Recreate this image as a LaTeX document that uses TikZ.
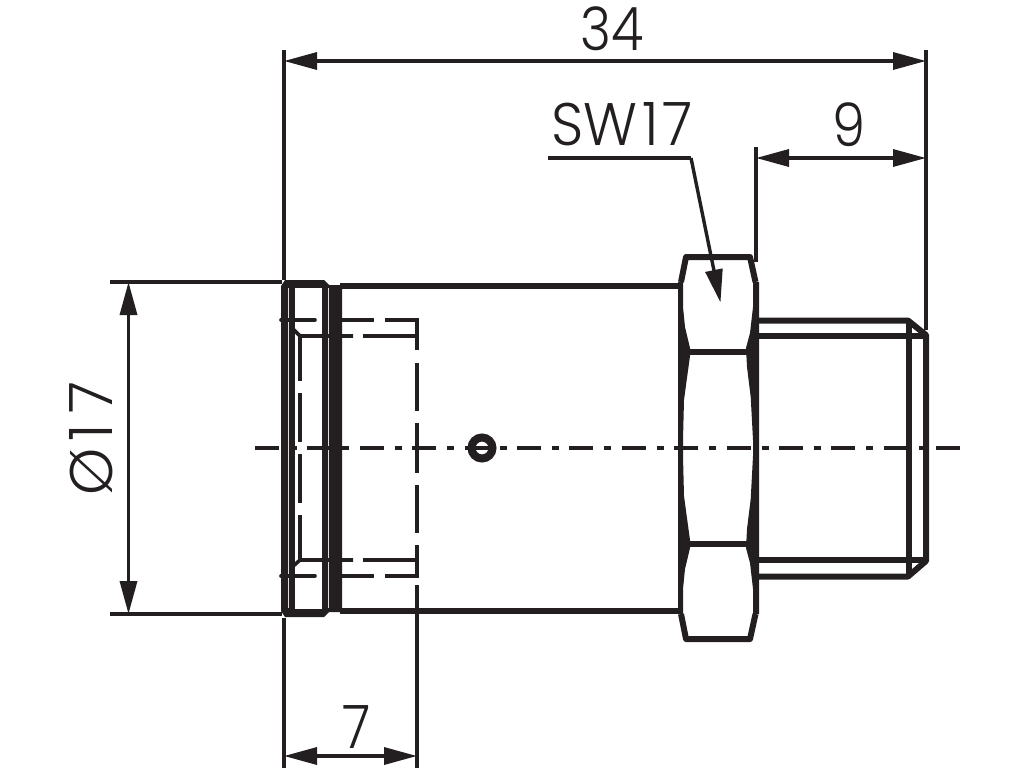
\documentclass[tikz,border=0pt]{standalone}
\usepackage{fontspec}
\setmainfont{Poppins}[UprightFont=* Light]
\usetikzlibrary{arrows.meta}
\definecolor{ink}{HTML}{231F20}
\tikzset{
  dimline/.style={line width=3.4pt,draw=ink,{Triangle[length=33pt,width=17pt]}-{Triangle[length=33pt,width=17pt]},shorten <=0pt,shorten >=0pt},
  leader/.style={line width=3.4pt,draw=ink,line join=miter},
  extline/.style={line width=3.4pt,draw=ink},
  thick outline/.style={line width=6pt,draw=ink,line join=round},
  hidden/.style={line width=3.6pt,draw=ink,line cap=round},
  axis/.style={line width=3.6pt,draw=ink,dash pattern=on 24pt off 11pt on 7pt off 10.4pt},
  dimtext/.style={inner sep=0pt,text=ink,font=\fontsize{60}{60}\selectfont}
}
\begin{document}
\begin{tikzpicture}[x=1pt,y=-1pt]
\useasboundingbox (0,0) rectangle (1024,768);
% named anchors of dimensions
\coordinate (a34) at (284,61); \coordinate (b34) at (926,61);
\coordinate (a9) at (756,158); \coordinate (b9) at (926,158);
\coordinate (a17) at (128.5,282); \coordinate (b17) at (128.5,614);
\coordinate (a7) at (284,756); \coordinate (b7) at (417,756);
\coordinate (la) at (548,158); \coordinate (lb) at (691,158); \coordinate (lc) at (720.5,302.5);
% extension lines
\draw[extline] (284,50) -- (284,280);
\draw[extline] (926,50) -- (926,330);
\draw[extline] (756,147) -- (756,262);
\draw[extline] (110,282) -- (282,282);
\draw[extline] (110,614) -- (282,614);
\draw[extline] (284,618) -- (284,768);
\draw[extline] (417,585) -- (417,768);
% hidden edges
\draw[hidden,line cap=butt] (417,320) -- (417,350) (417,363) -- (417,411) (417,423) -- (417,473) (417,485) -- (417,533) (417,545) -- (417,576);
% body
\fill[ink] (281,286) -- (285,280) -- (324,280) -- (329,285) -- (342,285) -- (342,612) -- (329,612) -- (324,617) -- (285,617) -- (281,611) -- cycle;
\fill[white] (295,288) rectangle (322,609);
\fill[white!85!ink] (288,288) rectangle (289.2,608);
\fill[white!85!ink] (327.5,288) rectangle (328.7,608);
\draw[hidden] (281,320) -- (315,320);
\draw[hidden] (281,576) -- (315,576);
\draw[hidden,line cap=butt] (342,320) -- (374,320) (385,320) -- (418.5,320);
\draw[hidden,line cap=butt] (342,576) -- (374,576) (385,576) -- (418.5,576);
\draw[hidden,line cap=butt] (291,327) -- (300,336) -- (353,336) (363,336) -- (418.5,336);
\draw[hidden,line cap=butt] (291,568) -- (300,560) -- (353,560) (363,560) -- (418.5,560);
\draw[hidden,line cap=butt] (300,336) -- (300,381) (300,393) -- (300,442) (300,454) -- (300,503) (300,515) -- (300,560);
\draw[thick outline] (340,285.5) -- (682,285.5);
\draw[thick outline] (340,610.5) -- (682,610.5);
% thread
\draw[thick outline] (755,320.5) -- (908,320.5) -- (926,335) -- (926,561) -- (908,576.5) -- (755,576.5);
\draw[thick outline] (755,336) -- (926,336);
\draw[thick outline] (755,559.5) -- (926,559.5);
\draw[thick outline] (908.5,320.5) -- (908.5,576.5);
% hexagon
\draw[thick outline] (681,282) -- (686,257) -- (750,257) -- (755.5,282);
\draw[thick outline] (681,614) -- (686,639) -- (750,639) -- (755.5,614);
\draw[thick outline] (688,352) -- (748,352);
\draw[thick outline] (688,543.5) -- (748,543.5);
\fill[ink] (678,282) -- (683,282) -- (683,307) -- (685,327) -- (690,348) -- (690,356) -- (686.7,380) -- (684,400) -- (683,440) -- (683,456) -- (684,496) -- (686.7,516) -- (690,540) -- (690,548) -- (685,569) -- (683,589) -- (683,614) -- (678,614) -- cycle;
\fill[ink] (759,282) -- (753,282) -- (753,307) -- (750,333) -- (746,348) -- (747,367) -- (750.7,397) -- (753,440) -- (753,456) -- (750.7,499) -- (747,529) -- (746,548) -- (750,563) -- (753,589) -- (753,614) -- (759,614) -- cycle;
% small port
\draw[ink,line width=8pt] (482,448) circle (10.5);
% axis
\draw[axis] (255,448) -- (960,448);
% dimension lines
\draw[dimline] (a34) -- (b34);
\draw[dimline] (a9) -- (b9);
\draw[dimline] (a17) -- (b17);
\draw[dimline] (a7) -- (b7);
\draw[leader] (la) -- (lb);
\draw[leader,-{Triangle[length=33pt,width=17pt]}] (lb) -- (lc);
% texts
\node[dimtext,xscale=.88] (t34) at (612,29) {34};
\node[dimtext,xscale=.94] (tsw) at (622,124) {SW\kern5pt 1\kern4pt 7};
\node[dimtext,xscale=.88] (t9) at (849,125) {9};
\node[dimtext,xscale=.88] (t7) at (356.5,727) {7};
\node[dimtext,rotate=90] (t17) at (91,438.5) {Ø\kern7pt 1\kern11pt 7};
\end{tikzpicture}
\end{document}
